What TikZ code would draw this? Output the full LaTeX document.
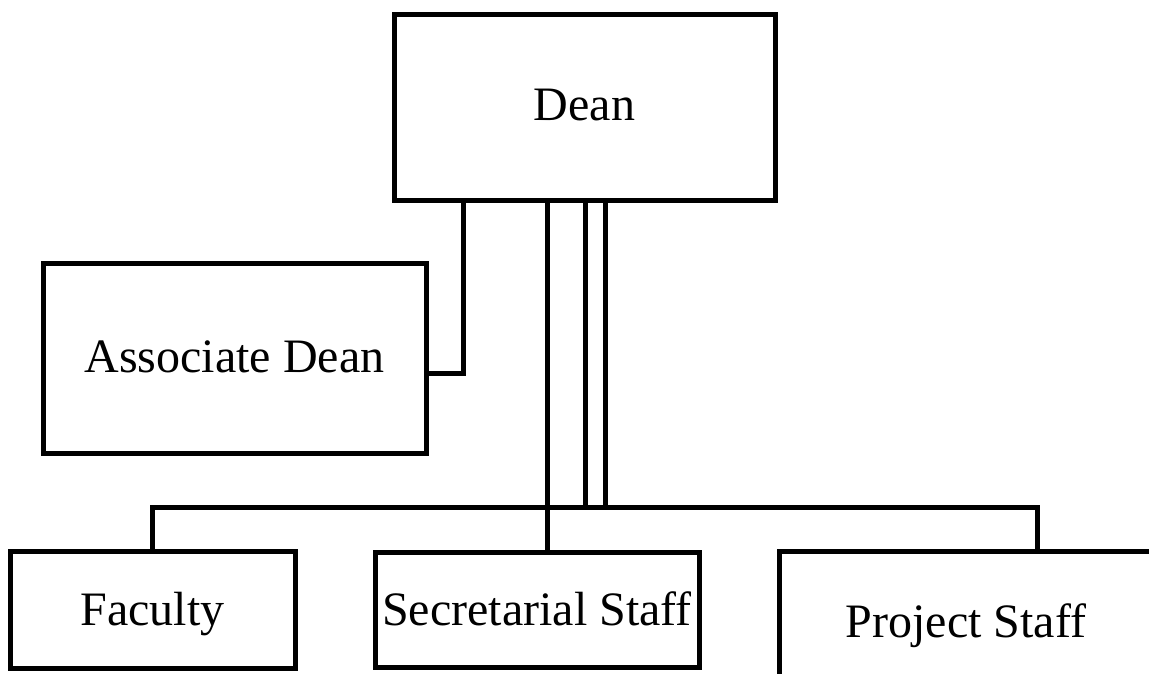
\documentclass[tikz,border=0pt]{standalone}
\usepackage{fontspec}
\setmainfont{Liberation Serif}
\begin{document}
\begin{tikzpicture}[x=1pt,y=-1pt,
  box/.style={draw,rectangle,line width=5pt,inner sep=0pt,text depth=0pt,
    font=\fontsize{48}{58}\selectfont},
  conn/.style={line width=5pt,line join=miter}]
\useasboundingbox (0,0) rectangle (1149,673);
% boxes (text height sets where the baseline sits inside each box)
\node[box,minimum width=381pt,minimum height=186pt,text height=26pt] (dean) at (584.5,107) {Dean};
\node[box,minimum width=383pt,minimum height=190pt,text height=28pt] (assoc) at (234.5,358) {Associate Dean};
\node[box,minimum width=285pt,minimum height=117pt,text height=30pt] (fac) at (152.5,610) {Faculty};
\node[box,minimum width=324pt,minimum height=115pt,text height=30pt] (sec) at (537,610) {Secretarial Staff};
\node[box,minimum width=374pt,minimum height=140pt,text height=32pt] (proj) at (966,621) {Project Staff};
% junction points
\coordinate (busy) at (0,507);
\coordinate (aj) at (463,373);
\coordinate (sx) at (547,0);
\coordinate (ua) at (585,0);
\coordinate (ub) at (605,0);
\coordinate (pdrop) at (1037,507);
% connectors
\draw[conn] (dean.south -| aj) -- (aj) -- (aj -| assoc.east);
\draw[conn] (fac.north) -- (fac.north |- busy) -- (pdrop) -- (pdrop |- proj.north);
\draw[conn] (dean.south -| sx) -- (sec.north -| sx);
\draw[conn] (dean.south -| ua) -- (busy -| ua) -- (busy -| ub) -- (dean.south -| ub);
\end{tikzpicture}
\end{document}
